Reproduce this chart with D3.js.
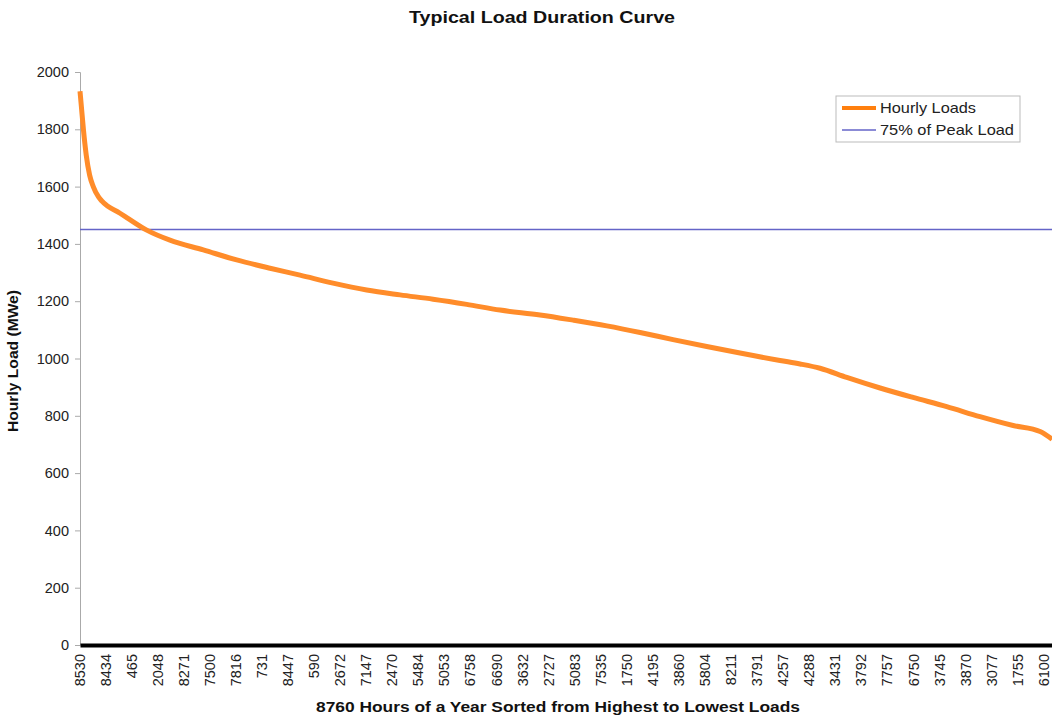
<!DOCTYPE html>
<html lang="en">
  <head>
    <meta charset="UTF-8" />
    <title>Typical Load Duration Curve</title>
    <script src="https://d3js.org/d3.v7.min.js"></script>
    <style>
      body {
        margin: 0;
        background: #fff;
        font-family: "Liberation Sans", Arial, sans-serif;
      }
      svg {
        display: block;
      }
      .tick text {
        fill: #222;
      }
    </style>
  </head>
  <body>
    <svg id="chart" width="1052" height="716"></svg>

    <script>
      // hour rank (sorted position) and load
      const hours = [
        0, 12, 30, 55, 85, 117, 162, 192, 353, 412, 589, 794, 1088, 1383,
        1677, 1942, 2233, 2530, 2825, 3116, 3413, 3707, 4060, 4351, 4649,
        4943, 5234, 5531, 5825, 6178, 6355, 6531, 6767, 7061, 7352, 7649,
        7943, 8235, 8473, 8579,
      ];
      const loads = [
        1933, 1880, 1800, 1710, 1640, 1600, 1565, 1550, 1507, 1492, 1448,
        1413, 1379, 1344, 1315, 1291, 1263, 1239, 1222, 1207, 1189, 1169,
        1152, 1134, 1114, 1091, 1066, 1042, 1019, 993, 981, 966, 934, 897,
        864, 832, 797, 766, 745, 718,
      ];
      const refLoad = 1450; // 75% of peak load (1933)

      // hour labels shown along the category axis, one every 230 hours
      const tickLabels = [
        "8530", "8434", "465", "2048", "8271", "7500", "7816", "731", "8447",
        "590", "2672", "7147", "2470", "5484", "5053", "6758", "6690", "3632",
        "2727", "5083", "7535", "1750", "4195", "3860", "5804", "8211", "3791",
        "4257", "4288", "3431", "3792", "7757", "6750", "3745", "3870", "3077",
        "1755", "6100",
      ];
      const labelStep = 230;
      const yTicks = [0, 200, 400, 600, 800, 1000, 1200, 1400, 1600, 1800, 2000];

      const data = hours.map((h, i) => ({ hour: h, load: loads[i] }));

      const svg = d3.select("#chart");
      const margin = { top: 72, left: 80, bottom: 71 };
      const height = 716 - margin.top - margin.bottom;

      const x = d3.scaleLinear().domain([0, 8760]).range([80, 1072.6]);
      const y = d3
        .scaleLinear()
        .domain([0, 2000])
        .range([margin.top + height, margin.top]);

      // Title
      svg
        .append("text")
        .attr("x", 542)
        .attr("y", 23)
        .attr("text-anchor", "middle")
        .attr("textLength", 266)
        .attr("lengthAdjust", "spacingAndGlyphs")
        .style("font-size", "16.5px")
        .style("font-weight", "bold")
        .attr("fill", "#111")
        .text("Typical Load Duration Curve");

      // Y axis
      const yAxis = svg
        .append("g")
        .attr("transform", `translate(${x(0)},0)`)
        .call(
          d3
            .axisLeft(y)
            .tickValues(yTicks)
            .tickFormat(d3.format("d"))
            .tickSize(5)
            .tickPadding(6)
        );
      yAxis.select(".domain").attr("stroke", "#aaa");
      yAxis.selectAll(".tick line").attr("stroke", "#aaa");
      yAxis
        .selectAll(".tick text")
        .style("font-size", "14.5px")
        .style("font-family", "'Liberation Sans', Arial, sans-serif");

      // X axis (category labels)
      const xAxis = svg
        .append("g")
        .attr("transform", `translate(0,${y(0)})`)
        .call(
          d3
            .axisBottom(x)
            .tickValues(tickLabels.map((d, i) => i * labelStep))
            .tickFormat((d, i) => tickLabels[i])
            .tickSize(0)
            .tickPadding(0)
        );
      xAxis.select(".domain").attr("stroke", "#000").attr("stroke-width", 4);
      xAxis
        .selectAll(".tick text")
        .style("font-size", "14.5px")
        .style("font-family", "'Liberation Sans', Arial, sans-serif")
        .attr("text-anchor", "end")
        .attr("dy", "0.35em")
        .attr("transform", "translate(-1,9) rotate(-90)");

      // Axis titles
      svg
        .append("text")
        .attr("x", 558)
        .attr("y", 712)
        .attr("text-anchor", "middle")
        .attr("textLength", 484)
        .attr("lengthAdjust", "spacingAndGlyphs")
        .style("font-size", "14.5px")
        .style("font-weight", "bold")
        .attr("fill", "#111")
        .text("8760 Hours of a Year Sorted from Highest to Lowest Loads");

      svg
        .append("text")
        .attr("transform", "translate(18,361) rotate(-90)")
        .attr("text-anchor", "middle")
        .attr("textLength", 142)
        .attr("lengthAdjust", "spacingAndGlyphs")
        .style("font-size", "15px")
        .style("font-weight", "bold")
        .attr("fill", "#111")
        .text("Hourly Load (MWe)");

      // 75% of peak reference line
      svg
        .append("line")
        .attr("x1", x(0))
        .attr("x2", x(8760))
        .attr("y1", y(refLoad))
        .attr("y2", y(refLoad))
        .attr("stroke", "#6464c8")
        .attr("stroke-width", 1.5);

      // Load duration curve
      const line = d3
        .line()
        .curve(d3.curveMonotoneX)
        .x((d) => x(d.hour))
        .y((d) => y(d.load));

      svg
        .append("path")
        .datum(data)
        .attr("fill", "none")
        .attr("stroke", "#ff8c2a")
        .attr("stroke-width", 5)
        .attr("stroke-linejoin", "round")
        .attr("d", line);

      // Legend
      const lg = svg.append("g").attr("transform", "translate(836,96)");
      lg.append("rect")
        .attr("width", 184)
        .attr("height", 46)
        .attr("fill", "#fff")
        .attr("stroke", "#bbb");
      const items = [
        { label: "Hourly Loads", color: "#ff7f0e", w: 4, len: 96 },
        { label: "75% of Peak Load", color: "#6464c8", w: 1.5, len: 134 },
      ];
      items.forEach((it, i) => {
        const yy = 12 + i * 22;
        lg.append("line")
          .attr("x1", 6)
          .attr("x2", 40)
          .attr("y1", yy)
          .attr("y2", yy)
          .attr("stroke", it.color)
          .attr("stroke-width", it.w);
        lg.append("text")
          .attr("x", 44)
          .attr("y", yy)
          .attr("dy", "0.35em")
          .attr("textLength", it.len)
          .attr("lengthAdjust", "spacingAndGlyphs")
          .style("font-size", "14.5px")
          .attr("fill", "#222")
          .text(it.label);
      });
    </script>
  </body>
</html>
